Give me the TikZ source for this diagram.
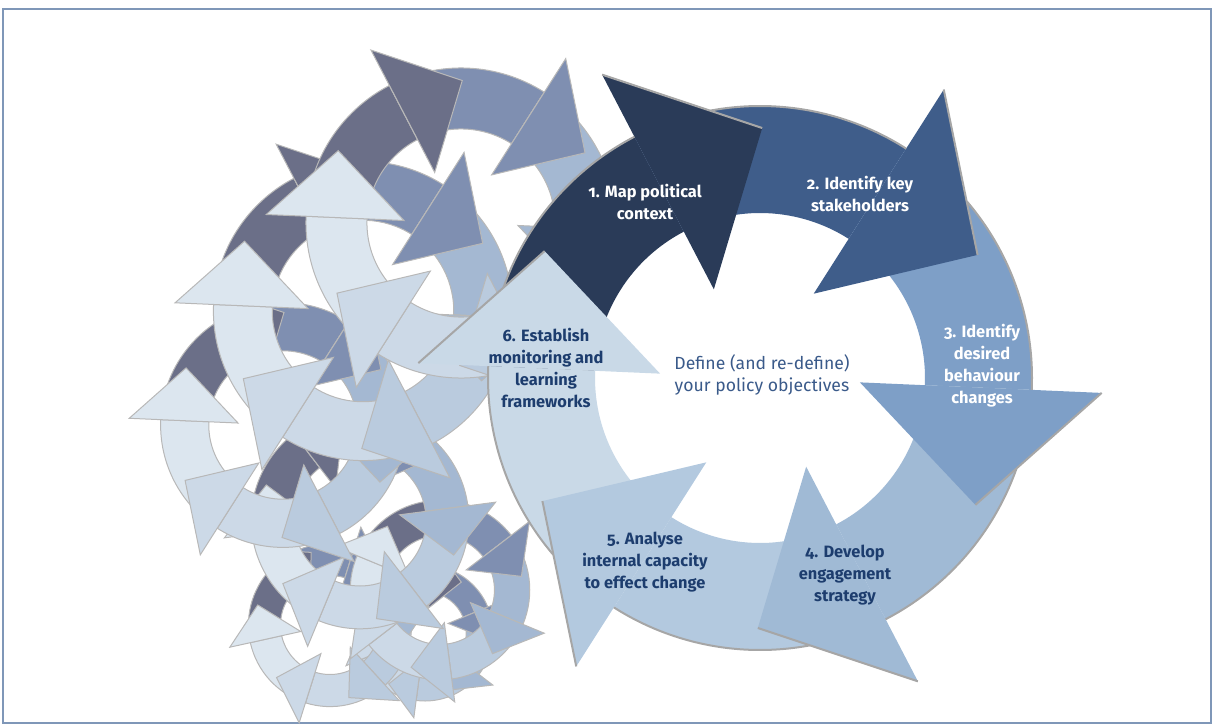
\documentclass[tikz,border=0pt]{standalone}
\usepackage{fontspec}
\setmainfont{Fira Sans}[Numbers=OldStyle]

\definecolor{main1}{HTML}{2A3B58}
\definecolor{main2}{HTML}{3F5D8A}
\definecolor{main3}{HTML}{7E9FC7}
\definecolor{main4}{HTML}{A0BAD5}
\definecolor{main5}{HTML}{B3C9DF}
\definecolor{main6}{HTML}{C9D9E7}
\definecolor{ghost1}{HTML}{6B6F88}
\definecolor{ghost2}{HTML}{7F8FB1}
\definecolor{ghost3}{HTML}{A4B8D2}
\definecolor{ghost4}{HTML}{BACBDE}
\definecolor{ghost5}{HTML}{CCD9E7}
\definecolor{ghost6}{HTML}{DCE6EF}
\definecolor{navytext}{HTML}{1D3D6E}
\definecolor{centretext}{HTML}{3A5A8A}
\definecolor{framecol}{HTML}{7F97B8}

% one ring of six arrows: centre x, centre y, scale, rotation, palette, edge style
\newcommand{\arrowcycle}[6]{%
  \begin{scope}[shift={(#1,#2)}, scale=#3, rotate=#4]
    \foreach \k/\b in {1/117.5,2/57.5,3/-2.5,4/-62.5,5/-122.5,6/177.5}{
      \path[fill=#5\k, #6] (\b+60:165) -- (\b+60:272)
        arc[start angle=\b+60, end angle=\b, radius=272]
        -- (\b:165) arc[start angle=\b, end angle=\b+60, radius=165] -- cycle;
    }
    \foreach \k/\b in {1/117.5,2/57.5,3/-2.5,4/-62.5,5/-122.5,6/177.5}{
      \path[fill=#5\k, #6] (\b:100) -- (\b:342) -- (\b-28:250) -- cycle;
    }
  \end{scope}}

\begin{document}
\begin{tikzpicture}[x=0.5pt, y=0.5pt,
  ghostedge/.style={draw=black!28, line width=0.5pt},
  rim/.style={draw=black!35, line width=1pt},
  lbl/.style={font=\fontsize{8.2}{11}\selectfont\bfseries, align=center, inner sep=0pt},
  lbldark/.style={lbl, text=navytext},
  lbllight/.style={lbl, text=white}]
\useasboundingbox (0,0) rectangle (1214,725);
\draw[framecol, line width=1pt] (3,2) rectangle (1211,716);

% trail of faded cycles, smallest first
\arrowcycle{425}{92}{0.25}{-35}{ghost}{ghostedge}
\arrowcycle{330}{100}{0.30}{15}{ghost}{ghostedge}
\arrowcycle{440}{135}{0.33}{-20}{ghost}{ghostedge}
\arrowcycle{360}{205}{0.40}{10}{ghost}{ghostedge}
\arrowcycle{283}{300}{0.45}{0}{ghost}{ghostedge}
\arrowcycle{363}{414}{0.55}{0}{ghost}{ghostedge}
\arrowcycle{461}{502}{0.57}{0}{ghost}{ghostedge}

% main cycle
\fill[white] (760,347) circle[radius=165];
\arrowcycle{760}{347}{1}{0}{main}{}
\begin{scope}[shift={(760,347)}]
  \foreach \b in {117.5,57.5,-2.5,-62.5,-122.5,177.5}{
    \draw[rim] (\b+43:272) arc[start angle=\b+43, end angle=\b, radius=272];
    \draw[rim] (\b:342) -- (\b-28:250);
  }
\end{scope}

\node[lbllight] (step1) at (645,523) {1. Map political\\context};
\node[lbllight] (step2) at (860,531) {2. Identify key\\stakeholders};
\node[lbllight] (step3) at (982,359) {3. Identify\\desired\\behaviour\\changes};
\node[lbldark] (step4) at (845,150) {4. Develop\\engagement\\strategy};
\node[lbldark] (step5) at (645,163) {5. Analyse\\internal capacity\\to effect change};
\node[lbldark] (step6) at (546,357) {6. Establish\\monitoring and\\learning\\frameworks};
\node[font=\fontsize{8.8}{11}\selectfont, text=centretext, align=center, inner sep=0pt]
  (goal) at (762,350) {Define (and re-define)\\your policy objectives};
\end{tikzpicture}
\end{document}
